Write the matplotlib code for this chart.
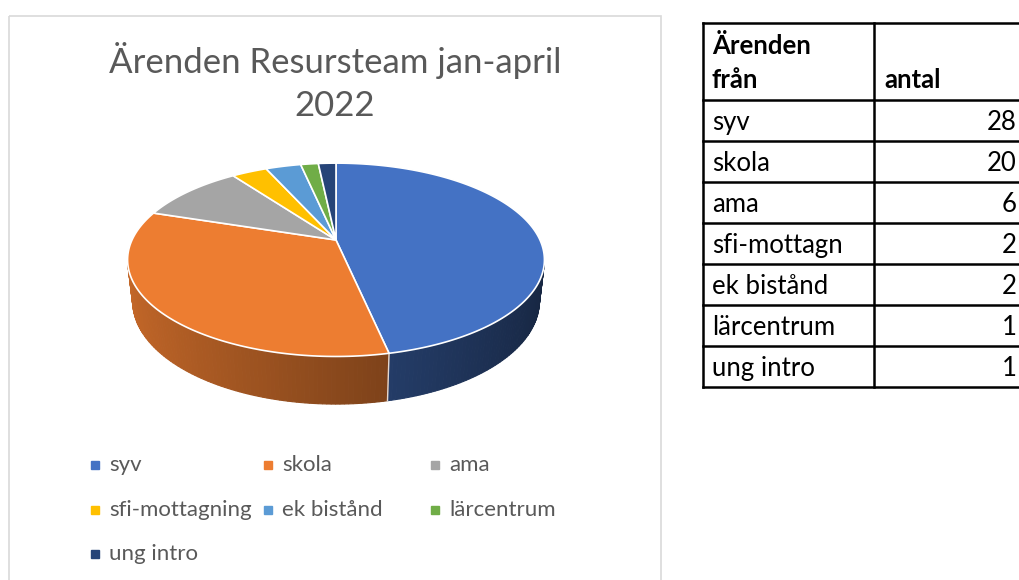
import numpy as np
import matplotlib.pyplot as plt
from matplotlib.colors import to_rgb
from matplotlib.patches import Polygon, Rectangle

# data
categories = ["syv", "skola", "ama", "sfi-mottagning", "ek bistånd", "lärcentrum", "ung intro"]
table_labels = ["syv", "skola", "ama", "sfi-mottagn", "ek bistånd", "lärcentrum", "ung intro"]
counts = [28, 20, 6, 2, 2, 1, 1]
colors = ["#4472C4", "#ED7D31", "#A5A5A5", "#FFC000", "#5B9BD5", "#70AD47", "#264478"]
title = "Ärenden Resursteam jan-april\n2022"
table_header = ["Ärenden\nfrån", "antal"]

W, H = 1019, 580
TXT = "#595959"
FONT = "Lato"

fig = plt.figure(figsize=(W / 100, H / 100), dpi=100)
ax = fig.add_axes([0, 0, 1, 1])
ax.set_xlim(0, W)
ax.set_ylim(H, 0)
ax.axis("off")

# chart area frame
ax.add_patch(Rectangle((9, 16), 652, 600, fill=False, edgecolor="#D9D9D9", lw=1.2))

ax.text(335, 82, title, ha="center", va="center", fontsize=25, color=TXT,
        family=FONT, linespacing=1.45)

# 3d pie with perspective
CX, CY = 336, 240
D = 4.35
elev = np.radians(27)
se, ce = np.sin(elev), np.cos(elev)
F = 204 * D
THICK = 0.23


def proj(X, Y, Z):
    d = D + Y * ce - Z * se
    return CX + F * X / d, CY - F * (Y * se + Z * ce) / d


def shade(c, phi):
    f = 0.58 - 0.25 * np.sin(phi)
    return np.clip(np.array(to_rgb(c)) * f, 0, 1)


fracs = np.array(counts) / sum(counts)
bounds = np.concatenate([[0], np.cumsum(fracs)]) * 2 * np.pi

# side walls
for i, c in enumerate(colors):
    a0, a1 = bounds[i], bounds[i + 1]
    n = max(2, int(np.degrees(a1 - a0) / 1.0) + 1)
    phis = np.linspace(a0, a1, n)
    for p0, p1 in zip(phis[:-1], phis[1:]):
        pm = (p0 + p1) / 2
        if np.cos(pm) > -0.2:
            continue
        pts = [proj(np.sin(p0), np.cos(p0), 0), proj(np.sin(p1), np.cos(p1), 0),
               proj(np.sin(p1), np.cos(p1), -THICK), proj(np.sin(p0), np.cos(p0), -THICK)]
        col = shade(c, pm)
        ax.add_patch(Polygon(pts, closed=True, facecolor=col, edgecolor=col, lw=0.8))

for b in bounds[1:-1]:
    if np.cos(b) < -0.26:
        x0, y0 = proj(np.sin(b), np.cos(b), 0)
        x1, y1 = proj(np.sin(b), np.cos(b), -THICK)
        ax.plot([x0, x1], [y0, y1], color="white", lw=1, alpha=0.8)

# top face
for i, c in enumerate(colors):
    a0, a1 = bounds[i], bounds[i + 1]
    n = max(2, int(np.degrees(a1 - a0) / 1.0) + 1)
    phis = np.linspace(a0, a1, n)
    pts = [proj(0, 0, 0)] + [proj(np.sin(p), np.cos(p), 0) for p in phis]
    ax.add_patch(Polygon(pts, closed=True, facecolor=c, edgecolor="white", lw=1.2,
                         joinstyle="round"))

# legend
col_x = [95, 268, 435]
for i, (name, c) in enumerate(zip(categories, colors)):
    r, k = divmod(i, 3)
    y = 465 + r * 44.5
    ax.plot(col_x[k], y, marker="s", markersize=5.5, color=c, linestyle="None")
    ax.text(col_x[k] + 14, y, name, ha="left", va="center", fontsize=16,
            color=TXT, family=FONT)

# table
T_LEFT, T_MID, T_RIGHT = 703, 874, 1030
T_TOP, T_HEAD, ROW_H = 23, 100, 41
n_rows = len(table_labels)
y_lines = [T_TOP, T_HEAD] + [T_HEAD + ROW_H * (j + 1) for j in range(n_rows)]
for yl in y_lines:
    ax.plot([T_LEFT, T_RIGHT], [yl, yl], color="black", lw=1.8)
for xl in [T_LEFT, T_MID]:
    ax.plot([xl, xl], [T_TOP, y_lines[-1]], color="black", lw=1.8)

ax.text(T_LEFT + 9, T_HEAD - 8, table_header[0], ha="left", va="bottom", fontsize=18.5,
        family=FONT, fontweight="bold", color="black", linespacing=1.5)
ax.text(T_MID + 10, T_HEAD - 8, table_header[1], ha="left", va="bottom", fontsize=18.5,
        family=FONT, fontweight="bold", color="black")
for j, (lab, v) in enumerate(zip(table_labels, counts)):
    yc = T_HEAD + ROW_H * j + ROW_H / 2 + 2
    ax.text(T_LEFT + 9, yc, lab, ha="left", va="center", fontsize=18.5, family=FONT, color="black")
    ax.text(1017, yc, str(v), ha="right", va="center", fontsize=18.5, family=FONT, color="black")

fig.savefig("out.png", dpi=100)
